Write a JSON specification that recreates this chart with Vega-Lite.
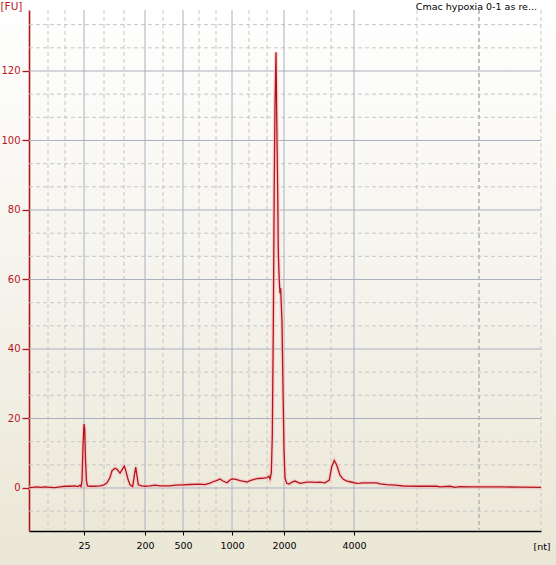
{
  "$schema": "https://vega.github.io/schema/vega-lite/v6.json",
  "width": 556,
  "height": 565,
  "autosize": "none",
  "padding": 0,
  "background": "#f4f1e8",
  "title": {
    "text": "Cmac hypoxia 0-1 as re...",
    "anchor": "end",
    "frame": "group",
    "orient": "top",
    "baseline": "alphabetic",
    "offset": -19,
    "dx": -19,
    "font": "DejaVu Sans",
    "fontSize": 9.5,
    "fontWeight": "normal",
    "color": "#000000"
  },
  "config": {
    "view": {
      "stroke": null,
      "fill": {
        "gradient": "linear",
        "x1": 0, "y1": 0, "x2": 0, "y2": 1,
        "stops": [
          {"offset": 0, "color": "#ffffff"},
          {"offset": 0.5, "color": "#f5f3ec"},
          {"offset": 1, "color": "#ebe7d6"}
        ]
      }
    }
  },
  "layer": [
    {
      "data": {"values": [
        {"time_s": 20.9}, {"time_s": 22.6}, {"time_s": 26.5}, {"time_s": 28.5}, {"time_s": 32.4},
        {"time_s": 36.0}, {"time_s": 37.7}, {"time_s": 41.0}, {"time_s": 42.8}, {"time_s": 46.8},
        {"time_s": 49.2}, {"time_s": 57.8}, {"time_s": 70.2}
      ]},
      "mark": {"type": "rule", "color": "#c6c6c6", "strokeWidth": 1, "strokeDash": [4, 3]},
      "encoding": {
        "x": {"field": "time_s", "type": "quantitative"},
        "y": {"datum": 137.55},
        "y2": {"datum": -12.374}
      }
    },
    {
      "data": {"values": [{"time_s": 64.0}]},
      "mark": {"type": "rule", "color": "#c0c0c0", "strokeWidth": 2, "strokeDash": [4, 3]},
      "encoding": {
        "x": {"field": "time_s", "type": "quantitative"},
        "y": {"datum": 137.55},
        "y2": {"datum": -12.374}
      }
    },
    {
      "data": {"values": [
        {"fu": -6.667}, {"fu": 6.667}, {"fu": 13.333}, {"fu": 26.667}, {"fu": 33.333},
        {"fu": 46.667}, {"fu": 53.333}, {"fu": 66.667}, {"fu": 73.333}, {"fu": 86.667},
        {"fu": 93.333}, {"fu": 106.667}, {"fu": 113.333}, {"fu": 126.667}, {"fu": 133.333}
      ]},
      "mark": {"type": "rule", "color": "#c6c6c6", "strokeWidth": 1, "strokeDash": [4, 3]},
      "encoding": {
        "y": {"field": "fu", "type": "quantitative"},
        "x": {"datum": 19},
        "x2": {"datum": 70.2}
      }
    },
    {
      "data": {"values": [
        {"time_s": 24.5}, {"time_s": 30.6}, {"time_s": 34.4}, {"time_s": 39.3}, {"time_s": 44.5}, {"time_s": 51.5}
      ]},
      "mark": {"type": "rule", "color": "#a9b2bf", "strokeWidth": 1},
      "encoding": {
        "x": {"field": "time_s", "type": "quantitative"},
        "y": {"datum": 137.55},
        "y2": {"datum": -12.374}
      }
    },
    {
      "data": {"values": [
        {"fu": 0}, {"fu": 20}, {"fu": 40}, {"fu": 60}, {"fu": 80}, {"fu": 100}, {"fu": 120}
      ]},
      "mark": {"type": "rule", "color": "#a9b2bf", "strokeWidth": 1},
      "encoding": {
        "y": {"field": "fu", "type": "quantitative"},
        "x": {"datum": 19},
        "x2": {"datum": 70.2}
      }
    },
    {
      "data": {
        "values": [
          {"time_s": 19.0, "fu": 0.1}, {"time_s": 19.4, "fu": 0.2}, {"time_s": 19.8, "fu": 0.3},
          {"time_s": 20.2, "fu": 0.2}, {"time_s": 20.6, "fu": 0.3}, {"time_s": 21.1, "fu": 0.2},
          {"time_s": 21.6, "fu": 0.1}, {"time_s": 22.1, "fu": 0.3}, {"time_s": 22.6, "fu": 0.5},
          {"time_s": 23.1, "fu": 0.5}, {"time_s": 23.6, "fu": 0.6}, {"time_s": 23.9, "fu": 0.4},
          {"time_s": 24.1, "fu": 0.8}, {"time_s": 24.2, "fu": 0.4}, {"time_s": 24.3, "fu": 2},
          {"time_s": 24.4, "fu": 12}, {"time_s": 24.5, "fu": 18.4}, {"time_s": 24.57, "fu": 17},
          {"time_s": 24.65, "fu": 8}, {"time_s": 24.75, "fu": 2}, {"time_s": 24.85, "fu": 0.6},
          {"time_s": 25.1, "fu": 0.5}, {"time_s": 25.6, "fu": 0.5}, {"time_s": 26.1, "fu": 0.6},
          {"time_s": 26.5, "fu": 0.9}, {"time_s": 26.8, "fu": 1.5}, {"time_s": 27.1, "fu": 3},
          {"time_s": 27.3, "fu": 5}, {"time_s": 27.6, "fu": 5.7}, {"time_s": 27.8, "fu": 5.4},
          {"time_s": 28.1, "fu": 4.3}, {"time_s": 28.3, "fu": 5.2}, {"time_s": 28.53, "fu": 6.3},
          {"time_s": 28.7, "fu": 4.8}, {"time_s": 28.9, "fu": 2.5}, {"time_s": 29.1, "fu": 0.9},
          {"time_s": 29.37, "fu": 0.4}, {"time_s": 29.5, "fu": 3}, {"time_s": 29.67, "fu": 6.0},
          {"time_s": 29.8, "fu": 3.5}, {"time_s": 29.93, "fu": 0.9}, {"time_s": 30.27, "fu": 0.6},
          {"time_s": 30.6, "fu": 0.5}, {"time_s": 31.1, "fu": 0.6}, {"time_s": 31.6, "fu": 0.8},
          {"time_s": 32.1, "fu": 0.6}, {"time_s": 32.6, "fu": 0.6}, {"time_s": 33.1, "fu": 0.6},
          {"time_s": 33.6, "fu": 0.8}, {"time_s": 34.4, "fu": 0.9}, {"time_s": 35.1, "fu": 1.0},
          {"time_s": 36.1, "fu": 1.1}, {"time_s": 36.6, "fu": 1.0}, {"time_s": 37.1, "fu": 1.4},
          {"time_s": 37.4, "fu": 1.8}, {"time_s": 37.8, "fu": 2.2}, {"time_s": 38.1, "fu": 2.6},
          {"time_s": 38.4, "fu": 2.0}, {"time_s": 38.8, "fu": 1.5}, {"time_s": 39.1, "fu": 2.3},
          {"time_s": 39.3, "fu": 2.6}, {"time_s": 39.7, "fu": 2.5}, {"time_s": 40.1, "fu": 2.1},
          {"time_s": 40.5, "fu": 1.9}, {"time_s": 40.8, "fu": 1.7}, {"time_s": 41.1, "fu": 2.1},
          {"time_s": 41.5, "fu": 2.5}, {"time_s": 41.8, "fu": 2.7}, {"time_s": 42.3, "fu": 2.8},
          {"time_s": 42.8, "fu": 3.0}, {"time_s": 43.0, "fu": 3.4}, {"time_s": 43.1, "fu": 2.6},
          {"time_s": 43.23, "fu": 4.2}, {"time_s": 43.33, "fu": 15}, {"time_s": 43.43, "fu": 46},
          {"time_s": 43.52, "fu": 85}, {"time_s": 43.6, "fu": 110}, {"time_s": 43.7, "fu": 125.4},
          {"time_s": 43.75, "fu": 112}, {"time_s": 43.8, "fu": 100}, {"time_s": 43.87, "fu": 85},
          {"time_s": 43.93, "fu": 68}, {"time_s": 44.02, "fu": 60}, {"time_s": 44.1, "fu": 56},
          {"time_s": 44.17, "fu": 57.5}, {"time_s": 44.23, "fu": 52.7}, {"time_s": 44.3, "fu": 47.9},
          {"time_s": 44.4, "fu": 28.8}, {"time_s": 44.5, "fu": 10.9}, {"time_s": 44.6, "fu": 2.8},
          {"time_s": 44.77, "fu": 1.35}, {"time_s": 45.03, "fu": 1.15}, {"time_s": 45.3, "fu": 1.7},
          {"time_s": 45.6, "fu": 2.0}, {"time_s": 45.9, "fu": 1.6}, {"time_s": 46.1, "fu": 1.35},
          {"time_s": 46.4, "fu": 1.5}, {"time_s": 46.77, "fu": 1.7}, {"time_s": 47.3, "fu": 1.7},
          {"time_s": 47.7, "fu": 1.6}, {"time_s": 48.1, "fu": 1.7}, {"time_s": 48.6, "fu": 1.5},
          {"time_s": 49.03, "fu": 2.3}, {"time_s": 49.27, "fu": 6.1}, {"time_s": 49.53, "fu": 7.9},
          {"time_s": 49.77, "fu": 6.6}, {"time_s": 50.1, "fu": 3.7}, {"time_s": 50.43, "fu": 2.5},
          {"time_s": 50.8, "fu": 2.0}, {"time_s": 51.1, "fu": 1.8}, {"time_s": 51.77, "fu": 1.35},
          {"time_s": 52.1, "fu": 1.4}, {"time_s": 52.43, "fu": 1.5}, {"time_s": 53.1, "fu": 1.5},
          {"time_s": 53.77, "fu": 1.5}, {"time_s": 54.1, "fu": 1.2}, {"time_s": 54.77, "fu": 0.95},
          {"time_s": 55.6, "fu": 0.8}, {"time_s": 56.43, "fu": 0.58}, {"time_s": 58.1, "fu": 0.5},
          {"time_s": 59.77, "fu": 0.5}, {"time_s": 60.1, "fu": 0.3}, {"time_s": 61.1, "fu": 0.5},
          {"time_s": 61.6, "fu": 0.2}, {"time_s": 62.1, "fu": 0.4}, {"time_s": 63.1, "fu": 0.3},
          {"time_s": 64.6, "fu": 0.35}, {"time_s": 66.4, "fu": 0.3}, {"time_s": 68.1, "fu": 0.25},
          {"time_s": 70.2, "fu": 0.2}
        ]
      },
      "encoding": {
        "x": {
          "field": "time_s",
          "type": "quantitative",
          "scale": {"domain": [19, 70.2], "range": [29, 541], "nice": false, "zero": false},
          "axis": {
            "orient": "bottom",
            "offset": -34,
            "grid": false,
            "values": [24.5, 30.6, 34.4, 39.3, 44.5, 51.5],
            "labelExpr": "datum.value == 24.5 ? '25' : datum.value == 30.6 ? '200' : datum.value == 34.4 ? '500' : datum.value == 39.3 ? '1000' : datum.value == 44.5 ? '2000' : datum.value == 51.5 ? '4000' : ''",
            "labelFont": "DejaVu Sans",
            "labelFontSize": 9.5,
            "labelColor": "#000000",
            "labelPadding": 5,
            "labelFlush": false,
            "labelOverlap": false,
            "domainColor": "#000000",
            "domainWidth": 1.4,
            "tickColor": "#000000",
            "tickSize": 4,
            "tickWidth": 1,
            "title": "[nt]",
            "titleFont": "DejaVu Sans",
            "titleFontSize": 9.5,
            "titleFontWeight": "normal",
            "titleColor": "#000000",
            "titleAngle": 0,
            "titleAlign": "center",
            "titleBaseline": "top",
            "titleX": 541.5,
            "titleY": 10
          }
        },
        "y": {
          "field": "fu",
          "type": "quantitative",
          "scale": {"domain": [-12.374, 137.55], "range": [531, 10], "nice": false, "zero": false},
          "axis": {
            "orient": "left",
            "offset": -29,
            "grid": false,
            "values": [0, 20, 40, 60, 80, 100, 120],
            "format": "d",
            "labelFont": "DejaVu Sans",
            "labelFontSize": 10,
            "labelColor": "#b8161c",
            "labelPadding": 2,
            "labelOverlap": false,
            "domainColor": "#b3141a",
            "domainWidth": 1.6,
            "tickColor": "#b3141a",
            "tickSize": 7,
            "tickWidth": 1.3,
            "title": "[FU]",
            "titleFont": "DejaVu Sans",
            "titleFontSize": 10.5,
            "titleFontWeight": "normal",
            "titleColor": "#b8161c",
            "titleAngle": 0,
            "titleAlign": "left",
            "titleBaseline": "top",
            "titleX": -29,
            "titleY": 1
          }
        }
      },
      "layer": [
        {"mark": {"type": "line", "color": "#f6c4c4", "strokeWidth": 4, "opacity": 0.7, "interpolate": "linear"}},
        {"mark": {"type": "line", "color": "#b3141a", "strokeWidth": 1.3, "interpolate": "linear"}}
      ]
    }
  ]
}
